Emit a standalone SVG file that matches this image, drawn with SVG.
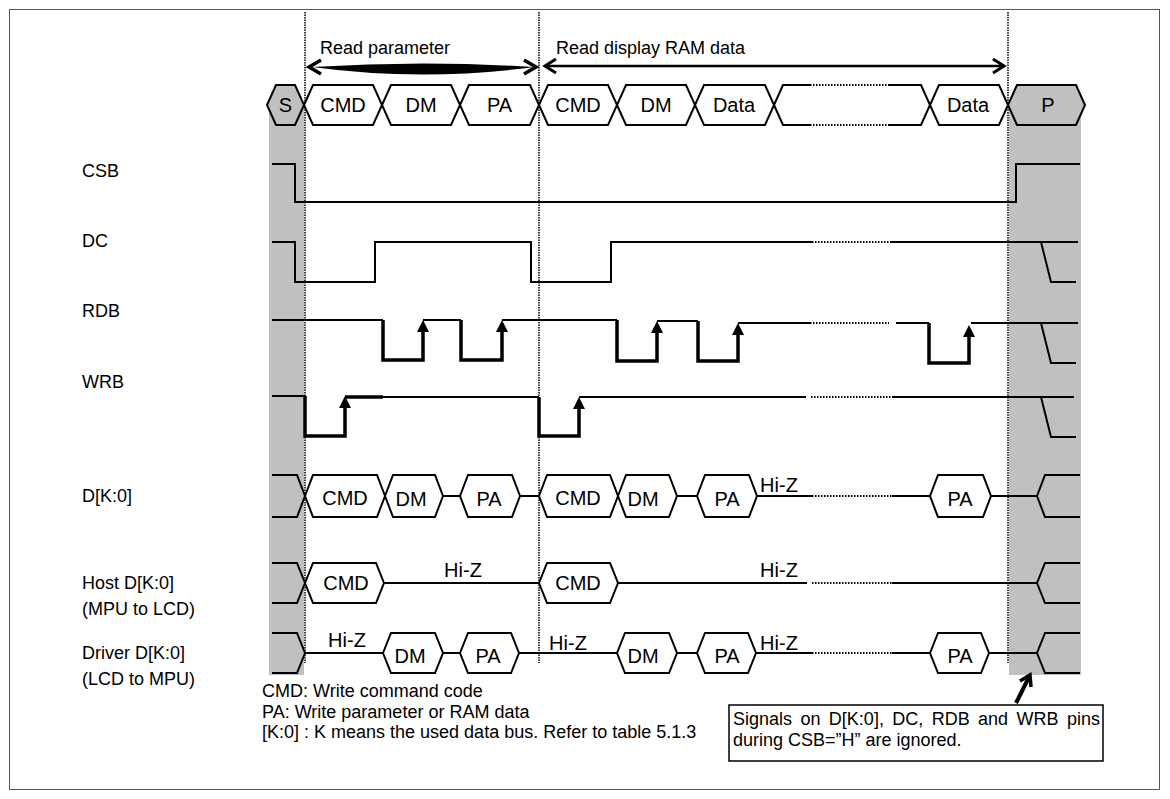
<svg xmlns="http://www.w3.org/2000/svg" width="1170" height="799" viewBox="0 0 1170 799">
<style>
text{font-family:"Liberation Sans",Arial,sans-serif;fill:#000}
.h{font-size:20px;text-anchor:middle}
.s{font-size:18px}
.lbl{font-size:18px}
.w{fill:none;stroke:#000;stroke-width:2}
.tk{fill:none;stroke:#000;stroke-width:3.5}
.dt{fill:none;stroke:#000;stroke-width:2;stroke-dasharray:1.5 1.5}
.vd{fill:none;stroke:#000;stroke-width:1.5;stroke-dasharray:1.5 1}
.hx{fill:#fff;stroke:#000;stroke-width:2}
.gx{fill:#c0c0c0;stroke:#000;stroke-width:2}
.ah{fill:#000}
</style>
<rect x="0" y="0" width="1170" height="799" fill="#fff"/>
<rect x="9.5" y="9.5" width="1150" height="780" fill="none" stroke="#555" stroke-width="1"/>
<!-- gray bands -->
<rect x="269" y="105" width="35" height="570" fill="#c0c0c0"/>
<rect x="1009" y="105" width="72" height="570" fill="#c0c0c0"/>
<!-- vertical dotted markers -->
<g id="markers">
<line class="vd" x1="305" y1="12" x2="305" y2="663"/>
<line class="vd" x1="539" y1="12" x2="539" y2="663"/>
<line class="vd" x1="1008" y1="12" x2="1008" y2="663"/>
</g>
<!-- top phase arrows -->
<g id="read-parameter">
<text class="s" x="320" y="54">Read parameter</text>
<path d="M312,67 Q423,60 534,67 Q423,82 312,67 Z" fill="#000"/>
<polyline class="tk" points="321,60 309,67 321,74"/>
<polyline class="tk" points="524,60 536,67 524,74"/>
</g>
<g id="read-ram">
<text class="s" x="556" y="54">Read display RAM data</text>
<line x1="546" y1="66" x2="1003" y2="66" stroke="#000" stroke-width="2.5"/>
<polyline class="w" points="556,59 545,66 556,73" style="stroke-width:3"/>
<polyline class="w" points="993,59 1004,66 993,73" style="stroke-width:3"/>
</g>
<!-- top bus row -->
<g id="bus-S"><polygon class="gx" points="267,105 276,85 295,85 304,105 295,125 276,125"/><text class="h" x="285.5" y="112">S</text></g>
<g id="bus-CMD1"><polygon class="hx" points="304,105 313,85 373,85 382,105 373,125 313,125"/><text class="h" x="343" y="112">CMD</text></g>
<g id="bus-DM1"><polygon class="hx" points="382,105 391,85 451,85 460,105 451,125 391,125"/><text class="h" x="421" y="112">DM</text></g>
<g id="bus-PA1"><polygon class="hx" points="460,105 469,85 530,85 539,105 530,125 469,125"/><text class="h" x="499.5" y="112">PA</text></g>
<g id="bus-CMD2"><polygon class="hx" points="539,105 548,85 608,85 617,105 608,125 548,125"/><text class="h" x="578" y="112">CMD</text></g>
<g id="bus-DM2"><polygon class="hx" points="617,105 626,85 686,85 695,105 686,125 626,125"/><text class="h" x="656" y="112">DM</text></g>
<g id="bus-Data1"><polygon class="hx" points="695,105 704,85 765,85 774,105 765,125 704,125"/><text class="h" x="734" y="112">Data</text></g>
<g id="bus-gap">
<path class="w" d="M774,105 L783,85 H810 M774,105 L783,125 H810 M888,85 H921 L930,105 L921,125 H888"/>
<path class="dt" d="M810,85 H888 M810,125 H888"/>
</g>
<g id="bus-Data2"><polygon class="hx" points="930,105 939,85 999,85 1008,105 999,125 939,125"/><text class="h" x="968" y="112">Data</text></g>
<g id="bus-P"><polygon class="gx" points="1008,105 1017,85 1076,85 1085,105 1076,125 1017,125"/><text class="h" x="1048" y="112">P</text></g>
<!-- labels -->
<g id="labels">
<text class="lbl" x="82" y="177">CSB</text>
<text class="lbl" x="82" y="247">DC</text>
<text class="lbl" x="82" y="317">RDB</text>
<text class="lbl" x="82" y="388">WRB</text>
<text class="lbl" x="82" y="502">D[K:0]</text>
<text class="lbl" x="82" y="589">Host D[K:0]</text>
<text class="lbl" x="82" y="615">(MPU to LCD)</text>
<text class="lbl" x="82" y="659">Driver D[K:0]</text>
<text class="lbl" x="82" y="685">(LCD to MPU)</text>
</g>
<!-- waveforms -->
<g id="connectors">
<g id="CSB"><polyline class="w" points="272,164 295,164 295,202 1016,202 1016,164 1080,164"/></g>
<g id="DC">
<polyline class="w" points="272,242 295,242 295,282 375,282 375,242 531,242 531,282 611,282 611,242 812,242"/>
<line class="dt" x1="812" y1="242" x2="891" y2="242"/>
<polyline class="w" points="891,242 1078,242"/>
<polyline class="w" points="1041,242 1051,282 1076,282"/>
</g>
<g id="RDB">
<polyline class="w" points="272,320 383,320"/>
<polyline class="tk" points="383,320 383,360 423,360 423,330"/>
<polygon class="ah" points="417,332 429,332 423,320"/>
<polyline class="w" points="423,320 461,320"/>
<polyline class="tk" points="461,320 461,360 502,360 502,330"/>
<polygon class="ah" points="496,332 508,332 502,320"/>
<polyline class="w" points="502,320 617,320"/>
<polyline class="tk" points="617,320 617,361 657,361 657,331"/>
<polygon class="ah" points="651,333 663,333 657,321"/>
<polyline class="w" points="657,321 698,321"/>
<polyline class="tk" points="698,321 698,361 738,361 738,333"/>
<polygon class="ah" points="732,335 744,335 738,323"/>
<polyline class="w" points="738,323 810,323"/>
<line class="dt" x1="810" y1="323" x2="889" y2="323"/>
<polyline class="w" points="896,323 929,323"/>
<polyline class="tk" points="929,323 929,363 969,363 969,335"/>
<polygon class="ah" points="963,337 975,337 969,325"/>
<polyline class="w" points="971,323 1078,323"/>
<polyline class="w" points="1041,323 1051,363 1076,363"/>
</g>
<g id="WRB">
<polyline class="w" points="272,396 305,396"/>
<polyline class="tk" points="305,396 305,436 345,436 345,406"/>
<polygon class="ah" points="339,408 351,408 345,396"/>
<polyline class="tk" points="345,397 383,397"/>
<polyline class="w" points="383,397 539,397"/>
<polyline class="tk" points="539,397 539,436 579,436 579,407"/>
<polygon class="ah" points="573,409 585,409 579,397"/>
<polyline class="w" points="579,397 806,397"/>
<line class="dt" x1="811" y1="397" x2="892" y2="397"/>
<polyline class="w" points="892,397 1074,397"/>
<polyline class="w" points="1041,397 1051,437 1076,437"/>
</g>
<g id="D">
<path class="w" d="M272,475 H297 L305,496 L297,517 H272 M443,496 H460 M520,496 H539 M677,496 H697 M757,496 H812 M892,496 H930 M991,496 H1037 L1045,475 H1080 M1037,496 L1045,517 H1080"/>
<line class="dt" x1="812" y1="496" x2="892" y2="496"/>
</g>
<g id="Host">
<path class="w" d="M272,563 H297 L305,583 L297,603 H272 M384,583 H539 M618,583 H807 M892,583 H1037 L1045,563 H1080 M1037,583 L1045,603 H1080"/>
<line class="dt" x1="812" y1="583" x2="892" y2="583"/>
</g>
<g id="Driver">
<path class="w" d="M272,633 H297 L305,653 L297,673 H272 M305,653 H383 M443,653 H460 M519,653 H617 M677,653 H697 M756,653 H812 M892,653 H930 M989,653 H1037 L1045,633 H1080 M1037,653 L1045,673 H1080"/>
<line class="dt" x1="812" y1="653" x2="892" y2="653"/>
</g>
</g>
<!-- D row nodes -->
<g id="d-CMD1"><polygon class="hx" points="305,496 313,475 377,475 385,496 377,517 313,517"/><text class="h" x="345" y="505">CMD</text></g>
<g id="d-DM1"><polygon class="hx" points="385,496 393,475 435,475 443,496 435,517 393,517"/><text class="h" x="411" y="506">DM</text></g>
<g id="d-PA1"><polygon class="hx" points="460,496 468,475 512,475 520,496 512,517 468,517"/><text class="h" x="489" y="506">PA</text></g>
<g id="d-CMD2"><polygon class="hx" points="539,496 547,475 610,475 618,496 610,517 547,517"/><text class="h" x="578" y="505">CMD</text></g>
<g id="d-DM2"><polygon class="hx" points="618,496 626,475 669,475 677,496 669,517 626,517"/><text class="h" x="643" y="506">DM</text></g>
<g id="d-PA2"><polygon class="hx" points="697,496 705,475 749,475 757,496 749,517 705,517"/><text class="h" x="727" y="506">PA</text></g>
<g id="d-HiZ"><text class="h" x="779" y="492">Hi-Z</text></g>
<g id="d-PA3"><polygon class="hx" points="930,496 938,475 983,475 991,496 983,517 938,517"/><text class="h" x="960" y="506">PA</text></g>
<!-- Host row nodes -->
<g id="h-CMD1"><polygon class="hx" points="305,583 313,563 376,563 384,583 376,603 313,603"/><text class="h" x="346" y="590">CMD</text></g>
<g id="h-HiZ1"><text class="h" x="463" y="577">Hi-Z</text></g>
<g id="h-CMD2"><polygon class="hx" points="539,583 547,563 610,563 618,583 610,603 547,603"/><text class="h" x="578" y="590">CMD</text></g>
<g id="h-HiZ2"><text class="h" x="779" y="577">Hi-Z</text></g>
<!-- Driver row nodes -->
<g id="r-HiZ1"><text class="h" x="347" y="647">Hi-Z</text></g>
<g id="r-DM1"><polygon class="hx" points="383,653 391,633 435,633 443,653 435,673 391,673"/><text class="h" x="410" y="663">DM</text></g>
<g id="r-PA1"><polygon class="hx" points="460,653 468,633 511,633 519,653 511,673 468,673"/><text class="h" x="488" y="663">PA</text></g>
<g id="r-HiZ2"><text class="h" x="568" y="650">Hi-Z</text></g>
<g id="r-DM2"><polygon class="hx" points="617,653 625,633 669,633 677,653 669,673 625,673"/><text class="h" x="643" y="663">DM</text></g>
<g id="r-PA2"><polygon class="hx" points="697,653 705,633 748,633 756,653 748,673 705,673"/><text class="h" x="727" y="663">PA</text></g>
<g id="r-HiZ3"><text class="h" x="779" y="650">Hi-Z</text></g>
<g id="r-PA3"><polygon class="hx" points="930,653 938,633 981,633 989,653 981,673 938,673"/><text class="h" x="960" y="663">PA</text></g>
<!-- notes -->
<g id="notes">
<text class="s" x="262" y="697">CMD: Write command code</text>
<text class="s" x="262" y="718">PA: Write parameter or RAM data</text>
<text class="s" x="262" y="738">[K:0] : K means the used data bus. Refer to table 5.1.3</text>
</g>
<g id="callout">
<rect x="729" y="705" width="374" height="56" fill="#fff" stroke="#000" stroke-width="1.5"/>
<text class="s" x="733" y="725" word-spacing="3.4">Signals on D[K:0], DC, RDB and WRB pins</text>
<text class="s" x="733" y="746">during CSB=”H” are ignored.</text>
<line x1="1016" y1="703" x2="1029" y2="677" stroke="#000" stroke-width="4"/>
<polyline points="1020,681 1030,675 1031,687" fill="none" stroke="#000" stroke-width="3.5"/>
</g>
</svg>
